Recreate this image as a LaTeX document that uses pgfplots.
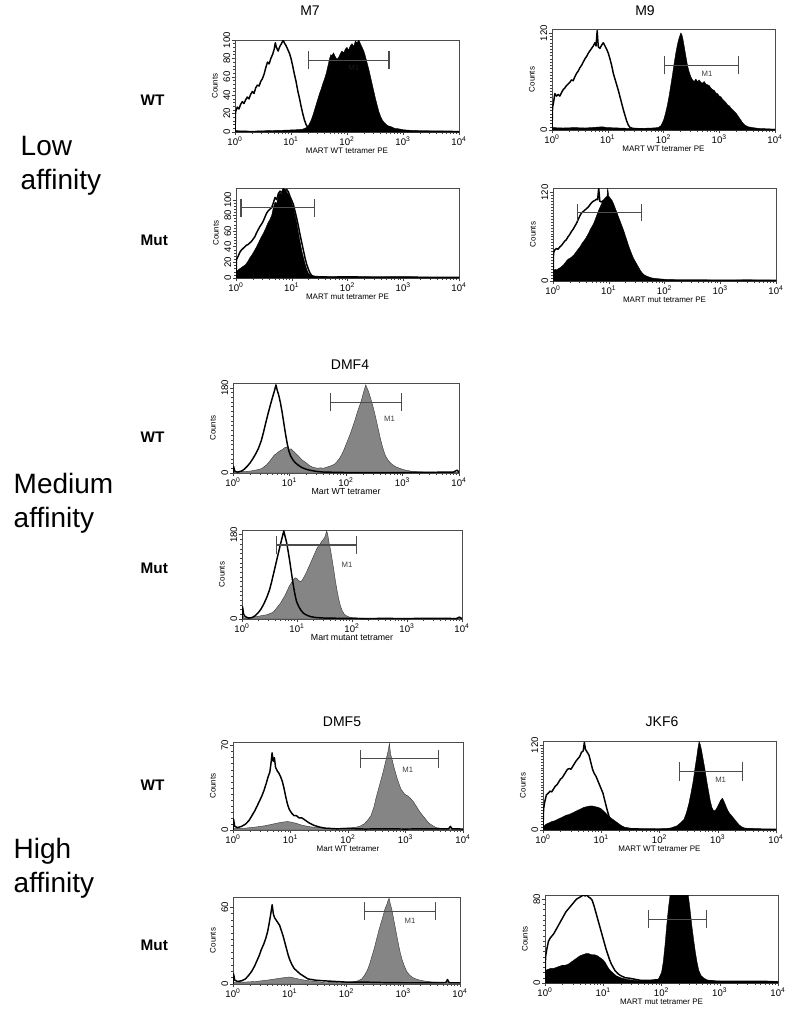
\documentclass[border=0pt]{standalone}
\usepackage{fontspec}
\setmainfont{Liberation Sans}
\usepackage{pgfplots}
\pgfplotsset{compat=1.18}
\newcommand\tickfont{\fontsize{7.2}{8}\selectfont}
\newcommand\lblfont{\fontsize{6}{7}\selectfont}
\tikzset{m1/.style={font=\fontsize{5.8}{6}\selectfont, text=black!75}}
\pgfplotsset{
 facs/.style={scale only axis, anchor=north west, xmin=0, xmax=4, ymin=0, clip=true,
  /pgf/number format/assume math mode=true,
  xtick={0,1,2,3,4},
  xticklabels={10\textsuperscript{0},10\textsuperscript{1},10\textsuperscript{2},10\textsuperscript{3},10\textsuperscript{4}},
  minor xtick={0.301,0.477,0.602,0.699,0.778,0.845,0.903,0.954,1.301,1.477,1.602,1.699,1.778,1.845,1.903,1.954,2.301,2.477,2.602,2.699,2.778,2.845,2.903,2.954,3.301,3.477,3.602,3.699,3.778,3.845,3.903,3.954},
  tick pos=left, tick align=outside,
  major tick length=2.4pt, minor tick length=1.4pt,
  axis line style={black!70, line width=0.5pt},
  every tick/.append style={black!75, line width=0.35pt},
  xticklabel style={font=\tickfont, inner sep=1.2pt},
  yticklabel style={font=\tickfont, rotate=90, anchor=south, inner sep=1pt},
  ylabel={Counts}, ylabel style={font=\lblfont, inner sep=1pt, yshift=2pt},
  xlabel style={font=\lblfont, inner sep=0pt},
 },
 openc/.style={black, line width=1.1pt, line join=round, mark=none},
 fillc/.style={draw=black, line width=0.3pt, fill=black, mark=none},
 grayc/.style={draw=black!80, line width=0.3pt, fill=black!48, mark=none},
 gatec/.style={black!70, line width=0.8pt, mark=none},
}
\newcommand{\gate}[5]{%
 \addplot[gatec] coordinates {(#1,#4) (#1,#5)};
 \addplot[gatec] coordinates {(#1,#3) (#2,#3)};
 \addplot[gatec] coordinates {(#2,#4) (#2,#5)};
}
\begin{document}
\begin{tikzpicture}
\path[use as bounding box] (0,0) rectangle (600pt,-766.5pt);

% group and row labels
\node[anchor=west, align=left, font=\fontsize{21}{25.5}\selectfont] at (16*0.75pt,-166*0.75pt) {Low\\affinity};
\node[anchor=west, align=left, font=\fontsize{21}{25.5}\selectfont] at (9*0.75pt,-503*0.75pt) {Medium\\affinity};
\node[anchor=west, align=left, font=\fontsize{21}{25.5}\selectfont] at (9*0.75pt,-868*0.75pt) {High\\affinity};
\node[anchor=west, font=\fontsize{11.5}{12}\selectfont\bfseries] at (136*0.75pt,-100*0.75pt) {WT};
\node[anchor=west, font=\fontsize{11.5}{12}\selectfont\bfseries] at (136*0.75pt,-240*0.75pt) {Mut};
\node[anchor=west, font=\fontsize{11.5}{12}\selectfont\bfseries] at (136*0.75pt,-437*0.75pt) {WT};
\node[anchor=west, font=\fontsize{11.5}{12}\selectfont\bfseries] at (136*0.75pt,-568*0.75pt) {Mut};
\node[anchor=west, font=\fontsize{11.5}{12}\selectfont\bfseries] at (136*0.75pt,-785*0.75pt) {WT};
\node[anchor=west, font=\fontsize{11.5}{12}\selectfont\bfseries] at (136*0.75pt,-945*0.75pt) {Mut};
% titles
\node[font=\fontsize{10.5}{12}\selectfont] at (310*0.75pt,-11*0.75pt) {M7};
\node[font=\fontsize{10.5}{12}\selectfont] at (645*0.75pt,-11*0.75pt) {M9};
\node[font=\fontsize{10.5}{12}\selectfont] at (350*0.75pt,-365*0.75pt) {DMF4};
\node[font=\fontsize{10.5}{12}\selectfont] at (342*0.75pt,-722*0.75pt) {DMF5};
\node[font=\fontsize{10.5}{12}\selectfont] at (662*0.75pt,-722*0.75pt) {JKF6};

% ---------- 1: M7 WT
\begin{axis}[facs, at={(235*0.75pt,-40*0.75pt)}, width=168pt, height=69pt,
  ymax=100, ytick={0,20,40,60,80,100}, minor y tick num=4, xlabel={MART WT tetramer PE}]
\addplot[fillc] coordinates {(0,0)(0.0,1.5)(0.3,1)(0.6,1.5)(0.9,2)(1.1,2.5)(1.2,3)(1.25,4)(1.30,6)(1.33,9)(1.36,13)(1.39,18)(1.42,24)(1.45,30)(1.48,36)(1.51,42)(1.54,47)(1.57,53)(1.60,58)(1.63,64)(1.66,72)(1.69,80)(1.71,84)(1.73,83)(1.76,86)(1.79,82)(1.82,79)(1.85,81)(1.88,85)(1.91,88)(1.94,86)(1.97,90)(2.00,92)(2.03,89)(2.06,94)(2.09,96)(2.12,93)(2.15,99)(2.18,97)(2.21,100)(2.24,96)(2.27,92)(2.30,88)(2.33,82)(2.36,75)(2.39,68)(2.42,60)(2.45,52)(2.48,44)(2.51,36)(2.54,29)(2.57,22)(2.60,17)(2.63,13)(2.67,10)(2.72,7)(2.78,6)(2.85,4)(2.92,3.5)(3.0,2.5)(3.1,2)(3.2,1.5)(3.4,1.2)(3.6,1)(3.8,0.8)(4.0,0.8)} \closedcycle;
\addplot[openc] coordinates {(0,0)(0.01,22)(0.04,27)(0.07,25)(0.10,30)(0.13,33)(0.16,31)(0.19,35)(0.22,38)(0.25,36)(0.28,41)(0.31,44)(0.34,42)(0.37,48)(0.40,51)(0.43,50)(0.46,55)(0.49,58)(0.52,63)(0.55,70)(0.58,76)(0.61,74)(0.64,80)(0.67,84)(0.70,90)(0.72,97)(0.74,92)(0.77,88)(0.80,93)(0.83,96)(0.86,100)(0.88,97)(0.91,94)(0.94,90)(0.97,86)(1.00,80)(1.03,72)(1.06,63)(1.09,55)(1.12,45)(1.15,37)(1.18,28)(1.21,20)(1.24,13)(1.27,8)(1.30,5)(1.33,3)(1.38,2)(1.45,1.5)(1.55,1)(1.7,1.5)(1.85,0.8)(2.0,1.2)(2.3,0.8)(2.6,1)(3.0,0.6)(3.5,0.8)(4.0,0.5)};
\gate{1.32}{2.75}{78}{68}{88}
\node[m1, text=black!90] at (axis cs:2.12,70) {M1};
\end{axis}

% ---------- 2: M9 WT
\begin{axis}[facs, at={(552*0.75pt,-29*0.75pt)}, width=167.25pt, height=75.75pt,
  ymax=125, ytick={0,120}, minor y tick num=29, xlabel={MART WT tetramer PE}]
\addplot[fillc] coordinates {(0,0)(0.01,3)(0.2,2.5)(0.4,3)(0.6,2.5)(0.8,3.5)(0.9,4)(1.0,3)(1.2,2.5)(1.4,2)(1.6,2)(1.8,2.5)(1.9,3)(1.95,5)(1.98,9)(2.01,14)(2.04,22)(2.07,31)(2.10,42)(2.13,55)(2.16,68)(2.19,82)(2.22,95)(2.25,106)(2.28,114)(2.31,120)(2.33,118)(2.35,112)(2.37,104)(2.39,96)(2.41,88)(2.43,80)(2.46,72)(2.49,66)(2.52,62)(2.55,60)(2.58,63)(2.61,60)(2.64,62)(2.67,59)(2.70,58)(2.73,60)(2.76,57)(2.79,56)(2.82,55)(2.85,52)(2.88,50)(2.91,49)(2.94,46)(2.97,45)(3.00,42)(3.03,41)(3.06,38)(3.09,36)(3.12,34)(3.15,31)(3.18,30)(3.21,27)(3.24,25)(3.27,23)(3.30,21)(3.33,18)(3.36,15)(3.39,12)(3.42,9)(3.46,6)(3.52,4)(3.6,3)(3.7,2)(3.85,1.5)(4.0,1)} \closedcycle;
\addplot[openc] coordinates {(0,0)(0.01,28)(0.03,35)(0.05,45)(0.08,42)(0.11,44)(0.14,42)(0.17,46)(0.20,50)(0.23,52)(0.26,55)(0.29,57)(0.32,59)(0.35,62)(0.38,61)(0.41,66)(0.44,70)(0.47,73)(0.50,77)(0.53,80)(0.56,84)(0.59,88)(0.62,91)(0.65,95)(0.68,98)(0.71,101)(0.74,104)(0.77,108)(0.79,104)(0.81,123)(0.83,103)(0.86,101)(0.89,105)(0.92,108)(0.95,104)(0.98,100)(1.01,95)(1.04,88)(1.07,80)(1.10,70)(1.13,63)(1.16,56)(1.19,49)(1.22,41)(1.25,33)(1.28,25)(1.31,18)(1.34,11)(1.37,6)(1.40,3)(1.45,2)(1.55,1.5)(1.7,1)(2.0,0.8)(2.5,0.8)(3.0,0.8)(4.0,0.5)};
\gate{2.02}{3.34}{80}{69}{91}
\node[m1] at (axis cs:2.78,70) {M1};
\end{axis}

% ---------- 3: M7 Mut
\begin{axis}[facs, at={(236*0.75pt,-188*0.75pt)}, width=167.25pt, height=67.5pt,
  ymax=115, ytick={0,20,40,60,80,100}, minor y tick num=4, xlabel={MART mut tetramer PE}]
\addplot[fillc] coordinates {(0,0)(0.01,9)(0.05,11)(0.09,13)(0.13,15)(0.17,17)(0.21,21)(0.25,26)(0.29,30)(0.33,35)(0.37,40)(0.41,46)(0.45,52)(0.49,57)(0.53,63)(0.57,70)(0.61,75)(0.64,80)(0.67,90)(0.70,97)(0.73,95)(0.76,105)(0.79,109)(0.82,107)(0.85,114)(0.88,112)(0.91,110)(0.94,107)(0.97,102)(1.00,96)(1.03,90)(1.06,80)(1.09,70)(1.12,58)(1.15,46)(1.18,35)(1.21,26)(1.24,18)(1.27,11)(1.30,6)(1.33,4)(1.38,2.5)(1.5,2)(1.7,1.5)(2.0,1.8)(2.5,1.2)(3.0,1.5)(3.5,1)(4.0,1)} \closedcycle;
\addplot[openc] coordinates {(0,0)(0.01,24)(0.04,28)(0.07,33)(0.10,36)(0.13,38)(0.16,40)(0.19,42)(0.22,43)(0.25,45)(0.28,47)(0.31,50)(0.34,53)(0.37,58)(0.40,62)(0.43,66)(0.46,69)(0.49,73)(0.52,78)(0.55,83)(0.58,86)(0.61,88)(0.64,90)(0.67,96)(0.70,103)(0.73,100)(0.76,108)(0.79,111)(0.82,109)(0.85,114)(0.88,112)(0.91,113)(0.94,110)(0.97,104)(1.00,99)(1.03,94)(1.06,85)(1.09,76)(1.12,66)(1.15,55)(1.18,45)(1.21,35)(1.24,25)(1.27,17)(1.30,11)(1.33,6)(1.36,3)(1.40,2)(1.5,1.5)(1.7,1.2)(2.0,1.5)(2.5,1)(3.0,1.2)(3.5,0.8)(4.0,0.8)};
\gate{0.09}{1.41}{90}{78.5}{101.5}
\end{axis}

% ---------- 4: M9 Mut
\begin{axis}[facs, at={(553*0.75pt,-188*0.75pt)}, width=167.25pt, height=69.75pt,
  ymax=126, ytick={0,120}, minor y tick num=29, xlabel={MART mut tetramer PE}]
\addplot[fillc] coordinates {(0,0)(0.01,14)(0.04,16)(0.07,15)(0.10,17)(0.13,18)(0.16,20)(0.19,22)(0.22,25)(0.25,28)(0.28,30)(0.31,31)(0.34,33)(0.37,35)(0.40,38)(0.43,41)(0.46,44)(0.49,47)(0.52,51)(0.55,54)(0.58,57)(0.61,61)(0.64,65)(0.67,70)(0.70,74)(0.73,78)(0.76,84)(0.79,90)(0.82,96)(0.85,101)(0.88,106)(0.91,110)(0.94,113)(0.97,115)(0.98,126)(1.00,115)(1.03,112)(1.06,109)(1.09,104)(1.12,98)(1.15,92)(1.18,86)(1.21,80)(1.24,74)(1.27,68)(1.30,61)(1.33,54)(1.36,47)(1.39,41)(1.42,35)(1.45,30)(1.48,26)(1.51,22)(1.54,18)(1.57,14)(1.60,11)(1.64,8)(1.70,6)(1.78,4)(1.9,3)(2.05,2)(2.3,1.5)(2.7,1.5)(3.0,1.2)(3.5,1.5)(4.0,1)} \closedcycle;
\addplot[openc] coordinates {(0,0)(0.01,38)(0.03,42)(0.06,44)(0.09,43)(0.12,46)(0.15,48)(0.18,51)(0.21,54)(0.24,56)(0.27,60)(0.30,63)(0.33,67)(0.36,70)(0.39,74)(0.42,78)(0.45,83)(0.48,88)(0.51,92)(0.54,94)(0.57,96)(0.60,98)(0.63,100)(0.66,103)(0.69,106)(0.72,108)(0.75,109)(0.78,111)(0.80,110)(0.82,126)(0.84,108)(0.87,107)(0.90,109)(0.93,110)(0.96,112)(0.99,110)(1.02,104)(1.05,96)(1.08,87)(1.11,78)(1.14,69)(1.17,59)(1.20,50)(1.23,41)(1.26,32)(1.29,23)(1.32,15)(1.35,9)(1.38,5)(1.42,3)(1.5,2)(1.7,1.5)(2.0,1)(2.5,1)(3.0,1)(4.0,0.8)};
\gate{0.44}{1.59}{93}{81}{105}
\end{axis}

% ---------- 5: DMF4 WT
\begin{axis}[facs, at={(233*0.75pt,-383*0.75pt)}, width=169.5pt, height=67.5pt,
  ymax=190, ytick={0,180}, minor y tick num=17, xlabel={Mart WT tetramer}, xlabel style={font=\fontsize{6.6}{7}\selectfont}]
\addplot[grayc] coordinates {(0,0)(0.01,2)(0.2,3)(0.3,4)(0.4,6)(0.5,9)(0.55,13)(0.6,18)(0.65,25)(0.70,33)(0.73,38)(0.76,40)(0.79,43)(0.82,46)(0.85,48)(0.88,50)(0.91,53)(0.94,55)(0.97,52)(1.00,50)(1.03,51)(1.06,47)(1.09,44)(1.12,40)(1.15,37)(1.18,33)(1.21,29)(1.24,26)(1.27,24)(1.30,21)(1.34,17)(1.38,14)(1.42,12)(1.46,11)(1.50,10)(1.55,11)(1.60,10)(1.65,12)(1.70,14)(1.75,16)(1.80,19)(1.84,24)(1.88,30)(1.92,38)(1.96,48)(2.00,60)(2.04,72)(2.08,84)(2.12,98)(2.16,112)(2.20,128)(2.24,142)(2.27,152)(2.30,166)(2.33,178)(2.35,186)(2.37,180)(2.40,172)(2.43,160)(2.46,148)(2.49,135)(2.52,120)(2.55,104)(2.58,88)(2.61,72)(2.64,58)(2.67,46)(2.70,36)(2.74,28)(2.78,22)(2.83,17)(2.88,13)(2.95,10)(3.02,7)(3.1,5)(3.2,3)(3.4,2)(3.7,1.5)(4.0,1)} \closedcycle;
\addplot[openc] coordinates {(0,0)(0.01,14)(0.03,4)(0.08,2)(0.15,4)(0.20,8)(0.25,14)(0.30,21)(0.35,30)(0.40,40)(0.45,52)(0.50,68)(0.54,86)(0.58,106)(0.62,125)(0.66,143)(0.70,160)(0.73,172)(0.76,186)(0.78,176)(0.81,164)(0.84,148)(0.87,128)(0.90,105)(0.93,82)(0.96,62)(0.99,46)(1.02,36)(1.06,28)(1.10,22)(1.15,17)(1.20,13)(1.25,10)(1.32,7)(1.40,5)(1.50,3)(1.6,2)(1.8,1.5)(2.0,1)(2.5,1)(3.0,1)(3.5,1.5)(3.9,2)(3.97,6)(4.0,1)};
\gate{1.72}{2.98}{149}{130}{168}
\node[m1] at (axis cs:2.77,114) {M1};
\end{axis}

% ---------- 6: DMF4 Mut
\begin{axis}[facs, at={(242*0.75pt,-530*0.75pt)}, width=165pt, height=66.75pt,
  ymax=190, ytick={0,180}, minor y tick num=17, xlabel={Mart mutant tetramer}, xlabel style={font=\fontsize{6.6}{7}\selectfont}]
\addplot[grayc] coordinates {(0,0)(0.01,8)(0.04,2)(0.15,3)(0.25,5)(0.35,7)(0.45,9)(0.52,12)(0.58,16)(0.62,22)(0.66,28)(0.70,34)(0.74,42)(0.78,50)(0.82,60)(0.86,70)(0.90,78)(0.94,85)(0.97,88)(1.00,86)(1.03,82)(1.06,80)(1.09,82)(1.12,88)(1.15,95)(1.18,102)(1.21,110)(1.24,118)(1.27,126)(1.30,134)(1.33,142)(1.36,150)(1.39,156)(1.42,160)(1.45,166)(1.48,170)(1.51,176)(1.54,188)(1.56,180)(1.58,164)(1.61,148)(1.64,126)(1.67,104)(1.70,80)(1.73,60)(1.76,42)(1.79,28)(1.82,18)(1.86,10)(1.91,6)(1.98,3)(2.1,2)(2.5,1)(3.0,1)(3.5,0.8)(4.0,0.8)} \closedcycle;
\addplot[openc] coordinates {(0,0)(0.01,26)(0.03,10)(0.06,5)(0.12,2)(0.18,3)(0.24,7)(0.30,14)(0.35,22)(0.40,33)(0.45,46)(0.50,62)(0.54,80)(0.58,100)(0.62,120)(0.66,140)(0.70,160)(0.73,174)(0.76,188)(0.78,178)(0.81,164)(0.84,144)(0.87,122)(0.90,98)(0.93,74)(0.96,54)(0.99,38)(1.03,27)(1.07,19)(1.12,12)(1.18,8)(1.25,5)(1.35,3)(1.5,2)(1.8,1.5)(2.2,1)(2.6,1.2)(3.0,1)(3.5,1.5)(3.9,1)(3.95,4)(4.0,1)};
\gate{0.62}{2.09}{158}{139}{177}
\node[m1] at (axis cs:1.91,116) {M1};
\end{axis}

% ---------- 7: DMF5 WT
\begin{axis}[facs, at={(233*0.75pt,-742*0.75pt)}, width=172.5pt, height=66pt,
  ymax=73, ytick={0,70}, minor y tick num=13, xlabel={Mart WT tetramer}]
\addplot[grayc] coordinates {(0,0)(0.01,1.5)(0.2,1.5)(0.4,2.5)(0.55,3.5)(0.65,4.5)(0.75,5.5)(0.85,6.5)(0.95,7)(1.02,6.5)(1.10,5.5)(1.20,4)(1.30,3)(1.45,2)(1.7,1.5)(1.9,1.5)(2.1,2)(2.2,3)(2.28,5)(2.34,8)(2.40,12)(2.45,19)(2.49,27)(2.53,34)(2.57,41)(2.61,48)(2.64,54)(2.67,60)(2.70,66)(2.72,72)(2.74,63)(2.77,58)(2.80,52)(2.83,47)(2.86,42)(2.89,38)(2.92,34)(2.95,32)(2.98,30)(3.01,29)(3.05,28)(3.09,26)(3.13,24)(3.17,21)(3.21,18)(3.25,15)(3.30,12)(3.35,9)(3.40,6)(3.46,4)(3.53,2)(3.65,1.2)(3.8,1)(4.0,0.8)} \closedcycle;
\addplot[openc] coordinates {(0,0)(0.01,9)(0.03,3)(0.08,2)(0.15,3)(0.22,5)(0.28,8)(0.33,12)(0.38,16)(0.42,20)(0.46,24)(0.50,28)(0.54,33)(0.58,39)(0.61,44)(0.64,48)(0.66,55)(0.68,64)(0.70,57)(0.72,60)(0.74,52)(0.77,49)(0.80,47)(0.83,44)(0.86,40)(0.89,34)(0.92,27)(0.95,21)(0.98,17)(1.02,14)(1.06,12)(1.10,12)(1.15,10)(1.20,10)(1.26,8)(1.32,6)(1.40,4)(1.5,2.5)(1.6,1.5)(1.8,1)(2.0,1.2)(2.3,0.8)(2.6,1)(3.0,0.8)(3.4,1)(3.75,1)(3.78,3)(3.81,1)(4.0,0.8)};
\gate{2.22}{3.58}{59}{51.5}{66.5}
\node[m1] at (axis cs:3.04,50) {M1};
\end{axis}

% ---------- 8: JKF6 WT
\begin{axis}[facs, at={(543*0.75pt,-741*0.75pt)}, width=174.75pt, height=66.75pt,
  ymax=126, ytick={0,120}, minor y tick num=29, xlabel={MART WT tetramer PE}]
\addplot[fillc] coordinates {(0,0)(0.01,5)(0.05,8)(0.10,10)(0.15,12)(0.20,13)(0.25,15)(0.30,17)(0.35,19)(0.40,21)(0.45,22)(0.50,24)(0.55,26)(0.60,28)(0.65,30)(0.70,32)(0.75,33)(0.80,34)(0.85,34)(0.90,33)(0.95,32)(1.00,30)(1.05,26)(1.10,22)(1.15,18)(1.20,15)(1.25,12)(1.30,9)(1.35,6)(1.40,4)(1.50,2.5)(1.7,1.5)(1.9,1.5)(2.1,2)(2.2,3)(2.3,6)(2.36,10)(2.42,15)(2.46,24)(2.50,36)(2.54,52)(2.58,70)(2.61,88)(2.64,104)(2.66,116)(2.68,125)(2.70,121)(2.72,114)(2.75,100)(2.78,86)(2.81,70)(2.84,56)(2.87,42)(2.90,32)(2.93,27)(2.96,28)(2.99,32)(3.02,37)(3.05,42)(3.08,45)(3.11,40)(3.14,34)(3.17,28)(3.20,24)(3.24,20)(3.28,16)(3.32,12)(3.36,8)(3.40,5)(3.45,3)(3.55,2)(3.7,1.5)(4.0,1)} \closedcycle;
\addplot[openc] coordinates {(0,0)(0.01,30)(0.03,40)(0.06,50)(0.09,52)(0.12,55)(0.15,54)(0.18,58)(0.21,62)(0.24,64)(0.27,68)(0.30,72)(0.33,74)(0.36,78)(0.39,82)(0.42,86)(0.45,87)(0.48,86)(0.51,90)(0.54,94)(0.57,98)(0.60,101)(0.63,104)(0.66,110)(0.69,112)(0.71,124)(0.73,114)(0.76,110)(0.79,106)(0.82,96)(0.85,86)(0.88,80)(0.91,76)(0.94,70)(0.97,64)(1.00,58)(1.03,52)(1.06,42)(1.09,32)(1.12,23)(1.15,15)(1.18,10)(1.22,7)(1.28,5)(1.35,3)(1.45,2)(1.6,1.5)(2.0,1)(2.5,1.2)(3.0,1)(3.5,1.2)(4.0,1)};
\gate{2.35}{3.43}{83}{70}{96}
\node[m1] at (axis cs:3.05,71) {M1};
\end{axis}

% ---------- 9: DMF5 Mut
\begin{axis}[facs, at={(233*0.75pt,-897*0.75pt)}, width=170.25pt, height=65.25pt,
  ymax=68, ytick={0,60}, minor y tick num=11]
\addplot[grayc] coordinates {(0,0)(0.01,1)(0.2,1.5)(0.4,2)(0.6,3)(0.75,4)(0.9,5)(1.0,5.5)(1.1,4.5)(1.2,3.5)(1.35,2.5)(1.6,1.2)(1.9,1)(2.1,1.5)(2.2,2.5)(2.27,4)(2.32,7)(2.37,11)(2.41,16)(2.45,22)(2.49,28)(2.53,35)(2.57,42)(2.61,48)(2.65,54)(2.68,59)(2.71,62)(2.73,65)(2.75,67)(2.77,63)(2.80,58)(2.83,51)(2.86,44)(2.89,37)(2.92,30)(2.95,24)(2.98,19)(3.02,14)(3.06,10)(3.11,7)(3.17,5)(3.25,3.5)(3.35,2.5)(3.5,1.6)(3.7,1.2)(4.0,1)} \closedcycle;
\addplot[openc] coordinates {(0,0)(0.01,8)(0.03,3)(0.08,2)(0.15,2.5)(0.22,4)(0.28,7)(0.33,10)(0.38,14)(0.42,18)(0.46,22)(0.50,27)(0.54,31)(0.58,36)(0.61,41)(0.64,48)(0.67,56)(0.69,62)(0.71,55)(0.73,52)(0.76,50)(0.79,48)(0.82,46)(0.85,42)(0.88,38)(0.91,33)(0.94,28)(0.97,23)(1.00,19)(1.04,15)(1.08,12)(1.13,10)(1.18,8)(1.25,6)(1.32,4)(1.45,3)(1.6,2.5)(1.8,2)(2.0,1.5)(2.3,1.5)(2.6,1.2)(3.0,1)(3.4,1)(3.75,1.2)(3.78,3.5)(3.81,1)(4.0,1)};
\gate{2.31}{3.57}{57}{50}{64}
\node[m1] at (axis cs:3.12,49) {M1};
\end{axis}

% ---------- 10: JKF6 Mut
\begin{axis}[facs, at={(545*0.75pt,-895*0.75pt)}, width=174.75pt, height=66pt,
  ymax=84, ytick={0,80}, minor y tick num=15, xlabel={MART mut tetramer PE}]
\addplot[fillc] coordinates {(0,0)(0.01,12)(0.05,13)(0.10,14)(0.15,14)(0.20,15)(0.25,16)(0.30,17)(0.35,17)(0.40,18)(0.45,20)(0.50,22)(0.55,24)(0.60,26)(0.65,27)(0.70,28)(0.75,28)(0.80,27)(0.85,27)(0.90,26)(0.95,24)(1.00,22)(1.04,19)(1.08,15)(1.12,12)(1.16,10)(1.22,7)(1.30,5)(1.40,3.5)(1.55,2.5)(1.7,2)(1.85,2)(1.95,4)(2.00,10)(2.03,20)(2.06,36)(2.09,55)(2.12,72)(2.15,85)(2.18,96)(2.22,105)(2.27,110)(2.32,112)(2.37,108)(2.42,98)(2.46,84)(2.49,70)(2.52,55)(2.55,42)(2.58,30)(2.61,20)(2.64,12)(2.68,7)(2.72,5)(2.78,3)(2.9,2)(3.1,1.5)(3.5,1.5)(4.0,1)} \closedcycle;
\addplot[openc] coordinates {(0,0)(0.01,25)(0.03,32)(0.06,40)(0.09,43)(0.12,45)(0.15,47)(0.18,50)(0.21,53)(0.24,56)(0.27,59)(0.30,62)(0.33,65)(0.36,68)(0.39,70)(0.42,72)(0.45,74)(0.48,76)(0.51,78)(0.54,80)(0.57,81)(0.60,82)(0.63,83)(0.66,84)(0.69,83)(0.72,84)(0.75,82)(0.78,81)(0.81,79)(0.84,74)(0.87,68)(0.90,62)(0.93,56)(0.96,50)(0.99,44)(1.02,38)(1.05,32)(1.08,27)(1.11,22)(1.14,18)(1.17,15)(1.20,12)(1.25,9)(1.30,7)(1.38,5)(1.46,4.5)(1.55,3.5)(1.65,2.5)(1.8,2.5)(1.9,3)(2.0,2.5)(2.2,2)(2.5,1.5)(2.8,2)(3.0,1.5)(3.4,1.5)(3.8,1.5)(4.0,1)};
\gate{1.77}{2.77}{61}{52.5}{69.5}
\end{axis}
\end{tikzpicture}
\end{document}
